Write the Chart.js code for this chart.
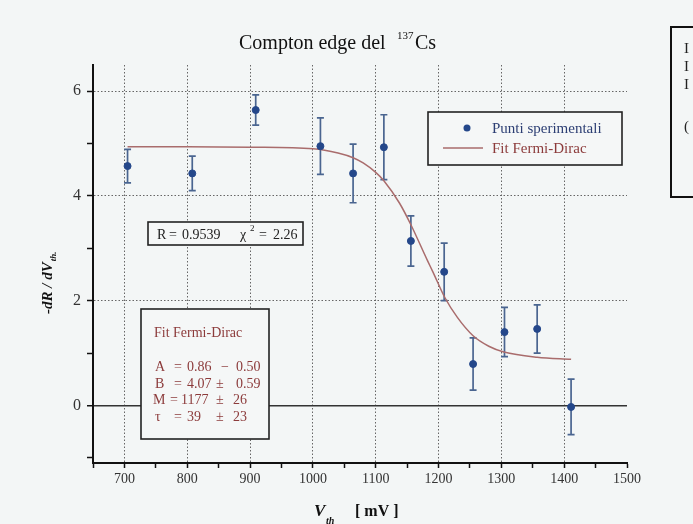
<!DOCTYPE html>
<html>
<head>
<meta charset="utf-8">
<script src="https://cdn.jsdelivr.net/npm/chart.js@4/dist/chart.umd.min.js"></script>
<style>
  html, body { margin: 0; padding: 0; background: #f3f6f6; }
  #wrap { position: relative; width: 693px; height: 524px; overflow: hidden; }
  #side { position: absolute; left: 670px; top: 26px; width: 40px; height: 168px;
          border: 2px solid #111; font: 15px "Liberation Serif", serif; color: #222; }
  #side div { position: absolute; left: 12px; }
</style>
</head>
<body>
<div id="wrap">
  <canvas id="chart" width="693" height="524"></canvas>
  <div id="side"><div style="top:12px">I</div><div style="top:30px">I</div><div style="top:48px">I</div><div style="top:90px">(</div></div>
</div>
<script>
// measured points (V_th in mV, -dR/dV_th)
const xValues = [705, 808, 909, 1012, 1064, 1113, 1156, 1209, 1255, 1305, 1357, 1411];
const yValues = [4.57, 4.43, 5.64, 4.95, 4.43, 4.93, 3.14, 2.55, 0.79, 1.40, 1.46, -0.03];
const yErrors = [0.32, 0.33, 0.29, 0.54, 0.56, 0.62, 0.48, 0.55, 0.50, 0.47, 0.46, 0.53];

// fit curve
const fitX = [705, 800, 900, 1000, 1040, 1064, 1080, 1100, 1113, 1138, 1156, 1183, 1191, 1210, 1230, 1255, 1280, 1304, 1357, 1411];
const fitY = [4.94, 4.94, 4.93, 4.90, 4.82, 4.73, 4.63, 4.45, 4.29, 3.86, 3.45, 2.75, 2.55, 2.06, 1.68, 1.33, 1.13, 1.02, 0.92, 0.88];

// fit results box: [name, value, sign, error]
const fitNames = ["A", "B", "M", "\u03c4"];
const fitValues = ["0.86", "4.07", "1177", "39"];
const fitSigns = ["\u2212", "\u00b1", "\u00b1", "\u00b1"];
const fitErrors = ["0.50", "0.59", "26", "23"];

const serif = '"Liberation Serif", "DejaVu Serif", serif';
const blue = "#24478a";
const barColor = "#4a6590";
const red = "#a96c6c";
const redText = "#8c3b3b";

const errorBars = {
  id: "errorBars",
  beforeDatasetsDraw(chart) {
    const ctx = chart.ctx;
    const x = chart.scales.x, y = chart.scales.y;
    ctx.save();
    ctx.strokeStyle = barColor;
    ctx.lineWidth = 1.7;
    xValues.forEach((v, i) => {
      const px = x.getPixelForValue(v);
      const top = y.getPixelForValue(yValues[i] + yErrors[i]);
      const bot = y.getPixelForValue(yValues[i] - yErrors[i]);
      ctx.beginPath();
      ctx.moveTo(px, top); ctx.lineTo(px, bot);
      ctx.moveTo(px - 3.5, top); ctx.lineTo(px + 3.5, top);
      ctx.moveTo(px - 3.5, bot); ctx.lineTo(px + 3.5, bot);
      ctx.stroke();
    });
    ctx.restore();
  }
};

function box(ctx, x, y, w, h) {
  ctx.fillStyle = "#f5f7f7";
  ctx.fillRect(x, y, w, h);
  ctx.strokeStyle = "#222";
  ctx.lineWidth = 1.6;
  ctx.strokeRect(x, y, w, h);
}

const decorations = {
  id: "decorations",
  afterDraw(chart) {
    const ctx = chart.ctx;
    ctx.save();
    ctx.textBaseline = "alphabetic";
    ctx.textAlign = "left";

    // title
    ctx.fillStyle = "#111";
    ctx.font = "20px " + serif;
    ctx.fillText("Compton edge del", 239, 49);
    ctx.font = "11px " + serif;
    ctx.fillText("137", 397, 39);
    ctx.font = "20px " + serif;
    ctx.fillText("Cs", 415, 49);

    // y title
    ctx.save();
    ctx.translate(52, 314);
    ctx.rotate(-Math.PI / 2);
    ctx.font = "italic bold 15px " + serif;
    ctx.fillText("-dR / dV", 0, 0);
    const w = ctx.measureText("-dR / dV").width;
    ctx.font = "italic bold 9px " + serif;
    ctx.fillText("th.", w + 1, 4);
    ctx.restore();

    // x title
    ctx.font = "italic bold 17px " + serif;
    ctx.fillText("V", 314, 516);
    ctx.font = "italic bold 10px " + serif;
    ctx.fillText("th", 326, 524);
    ctx.font = "bold 16px " + serif;
    ctx.fillText("[ mV ]", 355, 516);

    // legend
    box(ctx, 428, 112, 194, 53);
    ctx.fillStyle = blue;
    ctx.beginPath();
    ctx.arc(467, 128, 3.5, 0, Math.PI * 2);
    ctx.fill();
    ctx.strokeStyle = red;
    ctx.lineWidth = 1.5;
    ctx.beginPath();
    ctx.moveTo(443, 148); ctx.lineTo(483, 148);
    ctx.stroke();
    ctx.font = "15px " + serif;
    ctx.fillStyle = "#2c3e73";
    ctx.fillText("Punti sperimentali", 492, 133);
    ctx.fillStyle = redText;
    ctx.fillText("Fit Fermi-Dirac", 492, 153);

    // R / chi2 box
    box(ctx, 148, 222, 155, 23);
    ctx.fillStyle = "#222";
    ctx.font = "14px " + serif;
    ctx.fillText("R", 157, 239);
    ctx.fillText("=", 169, 239);
    ctx.fillText("0.9539", 182, 239);
    ctx.fillText("\u03c7", 240, 239);
    ctx.fillText("=", 259, 239);
    ctx.fillText("2.26", 273, 239);
    ctx.font = "9px " + serif;
    ctx.fillText("2", 250, 231);

    // fit parameters box
    box(ctx, 141, 309, 128, 130);
    ctx.fillStyle = redText;
    ctx.font = "14px " + serif;
    ctx.fillText("Fit Fermi-Dirac", 154, 337);
    fitNames.forEach((n, i) => {
      const by = 371 + i * 16.5;
      const isM = n === "M";
      ctx.fillText(n, isM ? 153 : 155, by);
      ctx.fillText("=", isM ? 170 : 174, by);
      ctx.fillText(fitValues[i], isM ? 181 : 187, by);
      ctx.fillText(fitSigns[i], fitSigns[i] === "\u2212" ? 221 : 216, by);
      ctx.fillText(fitErrors[i], fitErrors[i].length > 2 ? 236 : 233, by);
    });
    ctx.restore();
  }
};

new Chart(document.getElementById("chart"), {
  type: "scatter",
  data: {
    datasets: [
      {
        label: "Punti sperimentali",
        data: xValues.map((x, i) => ({ x: x, y: yValues[i] })),
        backgroundColor: blue,
        borderColor: blue,
        pointRadius: 3.5,
        order: 0
      },
      {
        label: "Fit Fermi-Dirac",
        data: fitX.map((x, i) => ({ x: x, y: fitY[i] })),
        showLine: true,
        borderColor: red,
        borderWidth: 1.5,
        pointRadius: 0,
        cubicInterpolationMode: "monotone",
        order: 1
      }
    ]
  },
  options: {
    responsive: false,
    animation: false,
    layout: { padding: { left: 0, right: 66, top: 65, bottom: 0 } },
    plugins: {
      legend: { display: false },
      title: { display: false },
      tooltip: { enabled: false }
    },
    scales: {
      x: {
        type: "linear",
        min: 650,
        max: 1500,
        afterFit: s => { s.height = 61; },
        ticks: {
          stepSize: 50,
          includeBounds: false,
          autoSkip: false,
          maxRotation: 0,
          padding: 3,
          color: "#333",
          font: { family: serif, size: 14 },
          callback: v => (v % 100 === 0 ? v : "")
        },
        grid: {
          color: c => (c.tick && c.tick.value % 100 === 0 && c.tick.value < 1500 ? "#666" : "transparent"),
          lineWidth: 1,
          tickColor: "#111",
          tickLength: 5,
          tickWidth: 1.5
        },
        border: { color: "#111", width: 2, dash: [1.5, 2] }
      },
      y: {
        min: -1.1,
        max: 6.5,
        afterFit: s => { s.width = 93; },
        ticks: {
          stepSize: 1,
          includeBounds: false,
          autoSkip: false,
          padding: 6,
          color: "#333",
          font: { family: serif, size: 16 },
          callback: v => (v % 2 === 0 ? v : "")
        },
        grid: {
          color: c => {
            if (!c.tick) return "transparent";
            if (c.tick.value === 0) return "#333";
            return c.tick.value % 2 === 0 ? "#666" : "transparent";
          },
          lineWidth: c => (c.tick && c.tick.value === 0 ? 1.5 : 1),
          tickColor: "#111",
          tickLength: 6,
          tickWidth: 1.5
        },
        border: {
          color: "#111",
          width: 2,
          dash: c => (c.tick && c.tick.value === 0 ? [] : [1.5, 2])
        }
      }
    }
  },
  plugins: [errorBars, decorations]
});
</script>
</body>
</html>
